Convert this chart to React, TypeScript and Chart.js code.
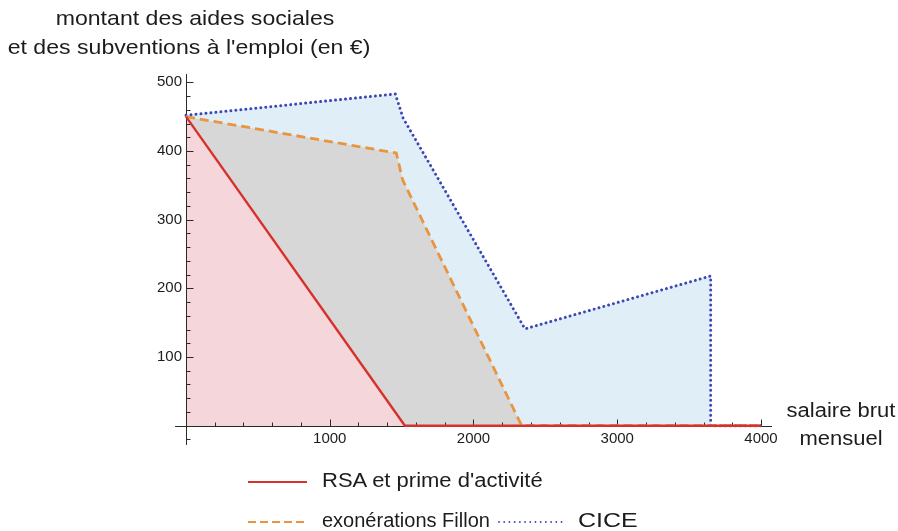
import React, { useEffect, useRef } from "react";
import { Chart, registerables } from "chart.js";

Chart.register(...registerables);

// ---- data ----
const rsaSalary = [0, 1523, 4000];
const rsaAmount = [450, 0, 0];

const fillonSalary = [0, 1463, 1507, 2335, 4000];
const fillonAmount = [450, 397, 358, 0, 0];

const ciceSalary = [0, 1456, 1510, 2358, 3650, 3650, 4000];
const ciceAmount = [452, 483, 448, 141, 218, 0, 0];

const xTickValues = [1000, 2000, 3000, 4000];
const yTickValues = [100, 200, 300, 400, 500];
const xMinorTicks = [200, 400, 600, 800, 1000, 1200, 1400, 1600, 1800, 2000, 2200, 2400, 2600, 2800, 3000, 3200, 3400, 3600, 3800, 4000];
const yMinorTicks = [-20, 20, 40, 60, 80, 100, 120, 140, 160, 180, 200, 220, 240, 260, 280, 300, 320, 340, 360, 380, 400, 420, 440, 460, 480, 500];
const xAxisStart = -76;
const yAxisStart = -28;

const seriesLabels = ["RSA et prime d'activité", "exonérations Fillon", "CICE"];

const FONT = "'Liberation Sans', Arial, Helvetica, sans-serif";
const TEXT = "#1c1c1c";

const toPoints = (xs: number[], ys: number[]) => xs.map((x, i) => ({ x, y: ys[i] }));

const axesPlugin = {
  id: "mathAxes",
  beforeDatasetsDraw(chart: any) {
    const { ctx } = chart;
    const x = chart.scales.x;
    const y = chart.scales.y;
    const x0 = Math.round(x.getPixelForValue(0)) + 0.5;
    const y0 = Math.round(y.getPixelForValue(0)) + 0.5;
    ctx.save();
    ctx.strokeStyle = "#2a2a2a";
    ctx.lineWidth = 1;
    ctx.beginPath();
    ctx.moveTo(x.getPixelForValue(xAxisStart), y0);
    ctx.lineTo(x.right, y0);
    ctx.moveTo(x0, y.top);
    ctx.lineTo(x0, y.getPixelForValue(yAxisStart));
    xMinorTicks.forEach((v) => {
      const px = Math.round(x.getPixelForValue(v)) + 0.5;
      const len = xTickValues.includes(v) ? 7 : 4;
      ctx.moveTo(px, y0);
      ctx.lineTo(px, y0 - len);
    });
    yMinorTicks.forEach((v) => {
      const py = Math.round(y.getPixelForValue(v)) + 0.5;
      const len = yTickValues.includes(v) ? 7 : 4;
      ctx.moveTo(x0, py);
      ctx.lineTo(x0 + len, py);
    });
    ctx.stroke();
    ctx.restore();
  },
};

function Text({ children, left, top, size = 20, align = "left", sx = 1.1 }: any) {
  const style: React.CSSProperties = {
    position: "absolute",
    top,
    fontFamily: FONT,
    fontSize: size,
    lineHeight: `${Math.round(size * 1.2)}px`,
    color: TEXT,
    whiteSpace: "nowrap",
    transform: `scaleX(${sx})`,
  };
  if (align === "center") {
    style.left = left - 300;
    style.width = 600;
    style.textAlign = "center";
    style.transformOrigin = "center";
  } else {
    style.left = left;
    style.transformOrigin = "left center";
  }
  return <div style={style}>{children}</div>;
}

export default function App() {
  const canvasRef = useRef<HTMLCanvasElement | null>(null);

  useEffect(() => {
    if (!canvasRef.current) return;
    const chart = new Chart(canvasRef.current, {
      type: "line",
      data: {
        datasets: [
          {
            label: seriesLabels[0],
            data: toPoints(rsaSalary, rsaAmount),
            borderColor: "#d8312c",
            backgroundColor: "#f5d6da",
            fill: "origin",
            borderWidth: 2.4,
            pointRadius: 0,
            tension: 0,
          },
          {
            label: seriesLabels[1],
            data: toPoints(fillonSalary, fillonAmount),
            borderColor: "#e9953f",
            backgroundColor: "#d7d7d7",
            fill: "origin",
            borderWidth: 2.8,
            borderDash: [9, 5],
            pointRadius: 0,
            tension: 0,
          },
          {
            label: seriesLabels[2],
            data: toPoints(ciceSalary, ciceAmount),
            borderColor: "#3b47b5",
            backgroundColor: "#e0eef8",
            fill: "origin",
            borderWidth: 3,
            borderDash: [0.01, 5],
            borderCapStyle: "round",
            pointRadius: 0,
            tension: 0,
          },
        ],
      },
      options: {
        animation: false,
        responsive: true,
        maintainAspectRatio: false,
        layout: { padding: { top: 74, right: 126, left: 0, bottom: 0 } },
        plugins: {
          legend: { display: false },
          tooltip: { enabled: false },
          filler: { drawTime: "beforeDatasetsDraw" },
        },
        scales: {
          x: {
            type: "linear",
            min: -27.8,
            max: 4076.5,
            grid: { display: false, drawTicks: false },
            border: { display: false },
            afterBuildTicks: (s: any) => {
              s.ticks = xTickValues.map((v) => ({ value: v }));
            },
            afterFit: (s: any) => {
              s.height = 101;
            },
            ticks: {
              padding: 0,
              maxRotation: 0,
              autoSkip: false,
              color: TEXT,
              font: { family: FONT, size: 15 },
              callback: (v: any) => String(v),
            },
          },
          y: {
            type: "linear",
            min: -6.26,
            max: 512.1,
            grid: { display: false, drawTicks: false },
            border: { display: false },
            afterBuildTicks: (s: any) => {
              s.ticks = yTickValues.map((v) => ({ value: v }));
            },
            afterFit: (s: any) => {
              s.width = 182;
            },
            ticks: {
              padding: 0,
              autoSkip: false,
              color: TEXT,
              font: { family: FONT, size: 15 },
              callback: (v: any) => String(v),
            },
          },
        },
      },
      plugins: [axesPlugin],
    } as any);
    return () => chart.destroy();
  }, []);

  return (
    <div
      style={{
        position: "absolute",
        left: 0,
        top: 0,
        width: 898,
        height: 531,
        overflow: "hidden",
        background: "#fff",
      }}
    >
      <div style={{ position: "absolute", left: 0, top: 0, width: 898, height: 531 }}>
        <canvas ref={canvasRef} />
      </div>
      <Text left={195} top={5} size={21} align="center">montant des aides sociales</Text>
      <Text left={189} top={34} size={21} align="center">et des subventions à l'emploi (en €)</Text>
      <Text left={841} top={398} size={20} align="center">salaire brut</Text>
      <Text left={841} top={426} size={20} align="center">mensuel</Text>

      <svg
        width={898}
        height={531}
        style={{ position: "absolute", left: 0, top: 0, pointerEvents: "none" }}
      >
        <line x1={248} y1={482} x2={307} y2={482} stroke="#d8312c" strokeWidth={2.2} />
        <line x1={248} y1={522} x2={307} y2={522} stroke="#e9953f" strokeWidth={2.2} strokeDasharray="8 4" />
        <line
          x1={499}
          y1={522}
          x2={562}
          y2={522}
          stroke="#3b47b5"
          strokeWidth={1.8}
          strokeDasharray="0.01 5.2"
          strokeLinecap="round"
        />
      </svg>
      <Text left={322} top={468} size={20}>{seriesLabels[0]}</Text>
      <Text left={322} top={508} size={20} sx={1.0}>{seriesLabels[1]}</Text>
      <Text left={578} top={508} size={20} sx={1.25}>{seriesLabels[2]}</Text>
    </div>
  );
}
